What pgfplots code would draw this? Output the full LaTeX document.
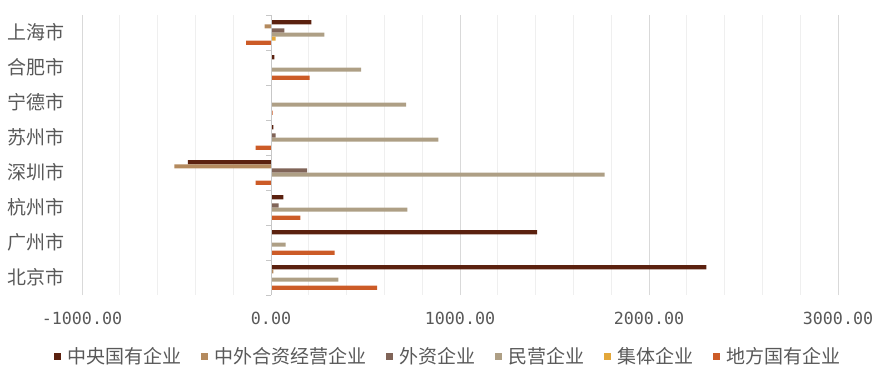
\documentclass[border=0pt]{standalone}
\usepackage{fontspec}
\setmainfont{Noto Sans CJK SC}
\newfontfamily\numfont{DejaVu Sans Mono}
\usepackage{pgfplots}
\pgfplotsset{compat=1.18}
\definecolor{cA}{HTML}{5B210F}
\definecolor{cB}{HTML}{B48A5E}
\definecolor{cC}{HTML}{806458}
\definecolor{cD}{HTML}{AE9F85}
\definecolor{cE}{HTML}{E3A73A}
\definecolor{cF}{HTML}{CC5B27}
\definecolor{txt}{HTML}{595959}
\definecolor{gmaj}{HTML}{D9D9D9}
\definecolor{gmin}{HTML}{EFEFEF}
\begin{document}
\begin{tikzpicture}
\useasboundingbox (0,0) rectangle (888pt,378pt);
\begin{axis}[
  at={(82pt,83pt)}, anchor=south west,
  scale only axis, width=756pt, height=280pt,
  xmin=-1000, xmax=3000, ymin=0.5, ymax=8.5,
  axis line style={draw=none},
  xtick={-1000,0,1000,2000,3000},
  minor x tick num=4,
  xmajorgrids, xminorgrids,
  major grid style={color=gmaj, line width=1pt},
  minor grid style={color=gmin, line width=1pt},
  major tick length=0pt, minor tick length=0pt,
  ytick={1,2,3,4,5,6,7,8},
  yticklabels={北京市,广州市,杭州市,深圳市,苏州市,宁德市,合肥市,上海市},
  yticklabel style={font=\fontsize{19}{19}\selectfont, text=txt, anchor=east, inner sep=0pt, xshift=-17pt},
  xticklabel style={font=\numfont\fontsize{16.7}{16.7}\selectfont, text=txt, anchor=center, yshift=-23pt},
  /pgf/number format/.cd, fixed, fixed zerofill, precision=2, 1000 sep={}, assume math mode=true,
  /pgfplots/.cd,
  legend columns=6,
  legend style={at={(0.484,-0.218)}, anchor=center, draw=none, fill=none,
    font=\fontsize{19}{19}\selectfont, text=txt,
    /tikz/every odd column/.append style={column sep=4.5pt},
    /tikz/every even column/.append style={column sep=17.5pt}},
  legend image code/.code={\fill[#1] (0pt,-3.5pt) rectangle (7pt,3.5pt);},
]
\addplot[xbar, bar width=4.1pt, bar shift=10.25pt, fill=cA, draw=none] coordinates {
 (2303,1) (1408,2) (66,3) (-440,4) (13,5) (0,6) (18,7) (213,8)};
\addplot[xbar, bar width=4.1pt, bar shift=6.15pt, fill=cB, draw=none] coordinates {
 (12,1) (0,2) (0,3) (-511,4) (0,5) (0,6) (0,7) (-34,8)};
\addplot[xbar, bar width=4.1pt, bar shift=2.05pt, fill=cC, draw=none] coordinates {
 (0,1) (0,2) (40,3) (191,4) (24,5) (0,6) (0,7) (71,8)};
\addplot[xbar, bar width=4.1pt, bar shift=-2.05pt, fill=cD, draw=none] coordinates {
 (357,1) (77,2) (722,3) (1765,4) (886,5) (715,6) (477,7) (283,8)};
\addplot[xbar, bar width=4.1pt, bar shift=-6.15pt, fill=cE, draw=none] coordinates {
 (0,1) (0,2) (0,3) (0,4) (0,5) (0,6) (0,7) (24,8)};
\addplot[xbar, bar width=4.1pt, bar shift=-10.25pt, fill=cF, draw=none] coordinates {
 (562,1) (336,2) (156,3) (-82,4) (-82,5) (8,6) (204,7) (-131,8)};
\legend{中央国有企业,中外合资经营企业,外资企业,民营企业,集体企业,地方国有企业}
\draw[color=gmaj!80!gray, line width=1pt] (axis cs:0,0.5) -- (axis cs:0,8.5);
\pgfplotsinvokeforeach{0.5,1.5,2.5,3.5,4.5,5.5,6.5,7.5,8.5}{
  \draw[color=gmaj!80!gray, line width=1pt] (axis cs:0,#1) -- ++(-5pt,0pt);
}
\end{axis}
\end{tikzpicture}
\end{document}
